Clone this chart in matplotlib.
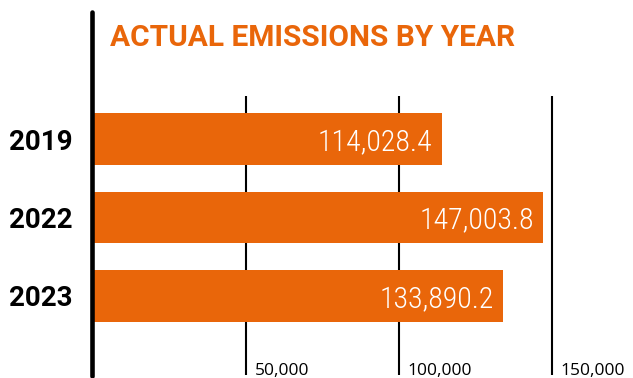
import matplotlib
matplotlib.use("Agg")
import matplotlib.pyplot as plt
from matplotlib.transforms import offset_copy

years = ["2019", "2022", "2023"]
emissions = [114028.4, 147003.8, 133890.2]
grid_values = [50000, 100000, 150000]
grid_labels = ["50,000", "100,000", "150,000"]
title = "ACTUAL EMISSIONS BY YEAR"

ORANGE = "#E9660A"
W, H = 633, 378
fig = plt.figure(figsize=(W / 100, H / 100), dpi=100)

x0 = 92.4
ax = fig.add_axes([x0 / W, 0, 1 - x0 / W, 1])
px_per_unit = 0.003063
ax.set_xlim(0, (W - x0) / px_per_unit)
c0, step = 139.2, 78.3
def py(p):
    return (p - c0) / step
ax.set_ylim(py(H), py(0))

ypos = list(range(len(years)))
ax.barh(ypos, emissions, height=51.7 / step, color=ORANGE, zorder=2)

# grid lines
ax.vlines(grid_values, py(96), py(375), color="black", lw=1.5, zorder=1)
for v, lab in zip(grid_values, grid_labels):
    ax.text(v, py(375), lab, transform=offset_copy(ax.transData, fig=fig, x=9, y=0, units="dots"),
            ha="left", va="baseline", fontsize=12.5, family="Open Sans", color="black")

# left axis line
ax.plot([0, 0], [py(12), py(376)], color="black", lw=3.3, solid_capstyle="round",
        zorder=3, clip_on=False, transform=offset_copy(ax.transData, fig=fig, x=-0.7, y=0, units="dots"))

# value labels
for y, v in zip(ypos, emissions):
    ax.text(v, y, f"{v:,.1f}", transform=offset_copy(ax.transData, fig=fig, x=-9, y=0, units="dots"),
            ha="right", va="center_baseline", fontsize=21.5, family="Roboto Condensed",
            fontweight=300, color="white", zorder=4)

ax.set_yticks(ypos)
ax.set_yticklabels(years, fontsize=20, fontweight="bold", family="Roboto", color="black")
ax.tick_params(axis="y", length=0, pad=14.4)
ax.set_xticks([])
for s in ax.spines.values():
    s.set_visible(False)

fig.text(110 / W, 1 - 46 / H, title, ha="left", va="baseline", fontsize=21.5,
         fontweight="bold", family="Roboto", color=ORANGE)

fig.savefig("out.png", dpi=100)
